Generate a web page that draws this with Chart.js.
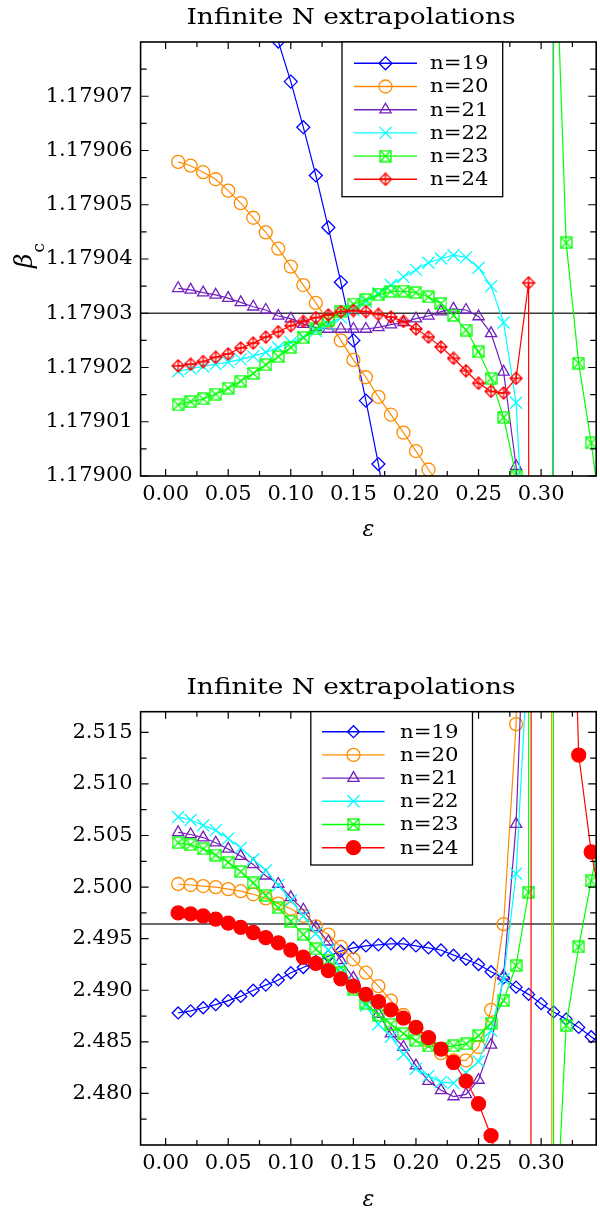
<!DOCTYPE html>
<html>
<head>
<meta charset="utf-8">
<script src="https://cdn.jsdelivr.net/npm/chart.js@4/dist/chart.umd.min.js"></script>
<style>
  html, body { margin: 0; padding: 0; background: #fff; overflow: hidden; }
  #wrap { position: relative; width: 606px; height: 1211px; }
  canvas { position: absolute; left: 0; }
</style>
</head>
<body>
<div id="wrap">
  <canvas id="topChart" width="606" height="600" style="top:0"></canvas>
  <canvas id="bottomChart" width="606" height="611" style="top:600px"></canvas>
</div>
<script>
// epsilon grid shared by every series
const eps = [0.01, 0.02, 0.03, 0.04, 0.05, 0.06, 0.07, 0.08, 0.09, 0.10,
             0.11, 0.12, 0.13, 0.14, 0.15, 0.16, 0.17, 0.18, 0.19, 0.20,
             0.21, 0.22, 0.23, 0.24, 0.25, 0.26, 0.27, 0.28, 0.29, 0.30,
             0.31, 0.32, 0.33, 0.34, 0.35];

const legendLabels = ["n=19", "n=20", "n=21", "n=22", "n=23", "n=24"];
const seriesColors = ["#0000ff", "#ff8c00", "#7221bc", "#00ffff", "#00ff00", "#ff0000"];

// beta_c extrapolations (top panel)
const betaN19 = [null, null, null, null, null, null, 1.1790935, 1.1790868, 1.1790801, 1.1790727,
                 1.1790643, 1.1790554, 1.1790458, 1.1790357, 1.1790250, 1.1790139, 1.1790022, 1.1789890,
                 null, null, null, null, null, null, null, null, null, null, null,
                 1.1745000, 1.1792000];
const betaN20 = [1.1790579, 1.1790572, 1.1790560, 1.1790547, 1.1790526, 1.1790503, 1.1790476, 1.1790449,
                 1.1790419, 1.1790386, 1.1790352, 1.1790319, 1.1790285, 1.1790250, 1.1790214, 1.1790182,
                 1.1790146, 1.1790113, 1.1790080, 1.1790046, 1.1790012, 1.1789978, 1.1789940];
const betaN21 = [1.1790346, 1.1790343, 1.1790338, 1.1790334, 1.1790328, 1.1790320, 1.1790312, 1.1790306,
                 1.1790295, 1.1790290, 1.1790280, 1.1790274, 1.1790271, 1.1790271, 1.1790271, 1.1790271,
                 1.1790274, 1.1790279, 1.1790283, 1.1790290, 1.1790295, 1.1790303, 1.1790308, 1.1790306,
                 1.1790294, 1.1790263, 1.1790192, 1.1790018, 1.1789700];
const betaN22 = [1.1790193, 1.1790198, 1.1790202, 1.1790206, 1.1790210, 1.1790215, 1.1790221, 1.1790228,
                 1.1790237, 1.1790246, 1.1790256, 1.1790267, 1.1790279, 1.1790292, 1.1790306, 1.1790321,
                 1.1790337, 1.1790352, 1.1790367, 1.1790380, 1.1790393, 1.1790401, 1.1790407, 1.1790403,
                 1.1790384, 1.1790350, 1.1790283, 1.1790135, 1.1789700];
const betaN23 = [1.1790131, 1.1790137, 1.1790142, 1.1790151, 1.1790162, 1.1790175, 1.1790189, 1.1790205,
                 1.1790220, 1.1790237, 1.1790255, 1.1790271, 1.1790287, 1.1790304, 1.1790317, 1.1790325,
                 1.1790334, 1.1790340, 1.1790341, 1.1790338, 1.1790330, 1.1790318, 1.1790296, 1.1790269,
                 1.1790229, 1.1790180, 1.1790108, 1.1790000, 1.1789600, 1.1735000, 1.1791100, 1.1790430,
                 1.1790208, 1.1790061, 1.1789890];
const betaN24 = [1.1790203, 1.1790206, 1.1790211, 1.1790219, 1.1790225, 1.1790236, 1.1790245, 1.1790256,
                 1.1790266, 1.1790277, 1.1790285, 1.1790292, 1.1790297, 1.1790303, 1.1790305, 1.1790303,
                 1.1790298, 1.1790293, 1.1790285, 1.1790271, 1.1790256, 1.1790238, 1.1790217, 1.1790194,
                 1.1790171, 1.1790156, 1.1790153, 1.1790180, 1.1790356, 1.1735000];
const betaRef = 1.17903;

// B_4 extrapolations (bottom panel)
const b4N19 = [2.4878, 2.4880, 2.4883, 2.4886, 2.4890, 2.4894, 2.4900, 2.4905, 2.4910, 2.4917,
               2.4922, 2.4928, 2.4933, 2.4938, 2.4941, 2.4943, 2.4944, 2.4945, 2.4945, 2.4943,
               2.4941, 2.4939, 2.4934, 2.4930, 2.4925, 2.4918, 2.4912, 2.4903, 2.4896, 2.4887,
               2.4879, 2.4872, 2.4864, 2.4855, 2.4846];
const b4N20 = [2.5003, 2.5002, 2.5001, 2.5000, 2.4998, 2.4996, 2.4993, 2.4989, 2.4984, 2.4979,
               2.4972, 2.4962, 2.4954, 2.4942, 2.4930, 2.4917, 2.4904, 2.4890, 2.4876, 2.4864,
               2.4851, 2.4839, 2.4832, 2.4832, 2.4845, 2.4881, 2.4964, 2.5158, 2.6000, 5.0400,
               2.0400];
const b4N21 = [2.5053, 2.5051, 2.5048, 2.5043, 2.5037, 2.5030, 2.5022, 2.5011, 2.5003, 2.4990,
               2.4978, 2.4961, 2.4947, 2.4929, 2.4912, 2.4895, 2.4877, 2.4858, 2.4845, 2.4827,
               2.4812, 2.4803, 2.4797, 2.4799, 2.4813, 2.4847, 2.4914, 2.5061, 2.5380];
const b4N22 = [2.5068, 2.5065, 2.5060, 2.5055, 2.5047, 2.5038, 2.5027, 2.5016, 2.5002, 2.4987,
               2.4972, 2.4955, 2.4939, 2.4922, 2.4906, 2.4885, 2.4867, 2.4855, 2.4838, 2.4824,
               2.4817, 2.4811, 2.4810, 2.4820, 2.4831, 2.4861, 2.4911, 2.5013, 2.5240];
const b4N23 = [2.5043, 2.5041, 2.5037, 2.5031, 2.5024, 2.5015, 2.5004, 2.4992, 2.4980, 2.4967,
               2.4954, 2.4940, 2.4929, 2.4917, 2.4901, 2.4887, 2.4876, 2.4867, 2.4858, 2.4851,
               2.4846, 2.4844, 2.4846, 2.4848, 2.4856, 2.4868, 2.4890, 2.4924, 2.4995, 5.0000,
               2.4619, 2.4866, 2.4942, 2.5006, 2.5070];
const b4N24 = [2.4975, 2.4974, 2.4972, 2.4969, 2.4965, 2.4961, 2.4956, 2.4951, 2.4946, 2.4939,
               2.4932, 2.4926, 2.4919, 2.4911, 2.4904, 2.4896, 2.4889, 2.4881, 2.4873, 2.4864,
               2.4854, 2.4843, 2.4830, 2.4812, 2.4790, 2.4759, 2.4705, 2.4600, 1.8900, 4.9900,
               2.6500, 2.5550, 2.5128, 2.5034, 2.4970];
const b4Ref = 2.49642;

// ticks
const xMajorTicks = [0, 0.05, 0.10, 0.15, 0.20, 0.25, 0.30];
const xMinorTicks = [0.025, 0.075, 0.125, 0.175, 0.225, 0.275, 0.325];
const xTickLabels = ["0.00", "0.05", "0.10", "0.15", "0.20", "0.25", "0.30"];
const betaMajorTicks = [1.17900, 1.17901, 1.17902, 1.17903, 1.17904, 1.17905, 1.17906, 1.17907];
const betaMinorTicks = [1.179005, 1.179015, 1.179025, 1.179035, 1.179045, 1.179055, 1.179065, 1.179075];
const betaTickLabels = ["1.17900", "1.17901", "1.17902", "1.17903", "1.17904", "1.17905", "1.17906", "1.17907"];
const b4MajorTicks = [2.480, 2.485, 2.490, 2.495, 2.500, 2.505, 2.510, 2.515];
const b4MinorTicks = [2.4775, 2.4825, 2.4875, 2.4925, 2.4975, 2.5025, 2.5075, 2.5125];
const b4TickLabels = ["2.480", "2.485", "2.490", "2.495", "2.500", "2.505", "2.510", "2.515"];

const xMin = -0.02, xMax = 0.344;
const FONT = "'DejaVu Serif', serif";

function boxCross(color, s) {
  const c = document.createElement("canvas");
  c.width = c.height = s + 2;
  const g = c.getContext("2d");
  g.strokeStyle = color;
  g.lineWidth = 1.3;
  g.strokeRect(1, 1, s, s);
  g.beginPath();
  g.moveTo(1, 1); g.lineTo(s + 1, s + 1);
  g.moveTo(s + 1, 1); g.lineTo(1, s + 1);
  g.stroke();
  return c;
}

function diamondPlus(color, s) {
  const c = document.createElement("canvas");
  c.width = c.height = s + 2;
  const g = c.getContext("2d");
  const m = (s + 2) / 2, h = s / 2;
  g.strokeStyle = color;
  g.lineWidth = 1.3;
  g.beginPath();
  g.moveTo(m, m - h); g.lineTo(m + h, m); g.lineTo(m, m + h); g.lineTo(m - h, m); g.closePath();
  g.moveTo(m, m - h); g.lineTo(m, m + h);
  g.moveTo(m - h, m); g.lineTo(m + h, m);
  g.stroke();
  return c;
}

function tickList(major, minor, labels) {
  return major.map((v, i) => ({ value: v, lbl: labels[i] }))
    .concat(minor.map(v => ({ value: v, lbl: "" })));
}

// frame, inward ticks, legend box and texts
const decor = {
  id: "decor",
  afterDatasetsDraw(chart, args, o) {
    const { ctx, chartArea: a } = chart;
    const xs = chart.scales.x, ys = chart.scales.y;
    ctx.save();
    ctx.strokeStyle = "#000";
    ctx.lineWidth = 1.2;
    ctx.beginPath();
    xs.ticks.forEach(t => {
      const p = xs.getPixelForValue(t.value), len = t.lbl ? 7 : 5;
      ctx.moveTo(p, a.bottom); ctx.lineTo(p, a.bottom - len);
      ctx.moveTo(p, a.top); ctx.lineTo(p, a.top + len);
    });
    ys.ticks.forEach(t => {
      const p = ys.getPixelForValue(t.value), len = t.lbl ? 8 : 6;
      ctx.moveTo(a.left, p); ctx.lineTo(a.left + len, p);
      ctx.moveTo(a.right, p); ctx.lineTo(a.right - len, p);
    });
    ctx.stroke();
    ctx.lineWidth = 1.6;
    ctx.strokeRect(a.left, a.top, a.right - a.left, a.bottom - a.top);

    // legend
    const L = o.legend;
    ctx.fillStyle = "#fff";
    ctx.fillRect(L.left, a.top, L.right - L.left, L.bottom - a.top);
    ctx.lineWidth = 1.3;
    ctx.strokeRect(L.left, a.top, L.right - L.left, L.bottom - a.top);
    chart.data.datasets.slice(0, legendLabels.length).forEach((ds, i) => {
      const y = L.rowTop + i * L.rowGap;
      ctx.strokeStyle = ds.borderColor;
      ctx.lineWidth = 1.4;
      ctx.beginPath();
      ctx.moveTo(L.lineFrom, y); ctx.lineTo(L.lineTo, y);
      ctx.stroke();
      ctx.fillStyle = ds.pointBackgroundColor;
      ctx.lineWidth = ds.pointBorderWidth;
      Chart.helpers.drawPoint(ctx, { pointStyle: ds.pointStyle, radius: ds.pointRadius,
        rotation: 0, borderWidth: ds.pointBorderWidth }, L.markAt, y);
      ctx.save();
      ctx.translate(L.textAt, y);
      ctx.scale(L.stretch, 1);
      ctx.fillStyle = "#000";
      ctx.font = L.size + "px " + FONT;
      ctx.textAlign = "left";
      ctx.textBaseline = "middle";
      ctx.fillText(ds.label, 0, 1);
      ctx.restore();
    });

    // title
    const T = o.title;
    ctx.save();
    ctx.translate(T.x, T.y);
    ctx.scale(T.stretch, 1);
    ctx.fillStyle = "#000";
    ctx.font = T.size + "px " + FONT;
    ctx.textAlign = "center";
    ctx.textBaseline = "middle";
    ctx.fillText(T.text, 0, 0);
    ctx.restore();

    // y axis title with subscript
    const Y = o.yTitle;
    ctx.save();
    ctx.translate(Y.x, Y.y);
    ctx.rotate(-Math.PI / 2);
    ctx.fillStyle = "#000";
    ctx.textAlign = "left";
    ctx.textBaseline = "alphabetic";
    ctx.font = (Y.italic ? "italic " : "") + Y.size + "px " + FONT;
    ctx.fillText(Y.main, 0, 0);
    const w = ctx.measureText(Y.main).width;
    ctx.font = Y.subSize + "px " + FONT;
    ctx.fillText(Y.sub, w + 1, Y.subShift);
    ctx.restore();
    ctx.restore();
  }
};

function buildChart(id, c) {
  const datasets = c.series.map((vals, i) => ({
    label: legendLabels[i],
    data: vals.map((v, j) => ({ x: eps[j], y: v })),
    borderColor: seriesColors[i],
    borderWidth: 1.2,
    pointStyle: c.markers[i].style,
    pointRadius: c.markers[i].r,
    pointBorderWidth: 1.3,
    pointBorderColor: seriesColors[i],
    pointBackgroundColor: c.markers[i].fill ? seriesColors[i] : "rgba(0,0,0,0)",
    order: 6 - i
  }));
  datasets.push({
    label: "ref",
    data: [{ x: xMin, y: c.ref }, { x: xMax, y: c.ref }],
    borderColor: "#3a3a3a",
    borderWidth: 1.7,
    pointRadius: 0,
    order: 7
  });

  return new Chart(document.getElementById(id), {
    type: "line",
    data: { datasets },
    options: {
      responsive: false,
      animation: false,
      devicePixelRatio: 1,
      events: [],
      layout: { padding: c.padding },
      scales: {
        x: {
          type: "linear", min: xMin, max: xMax,
          grid: { display: false, drawTicks: false },
          border: { display: false },
          afterBuildTicks: s => { s.ticks = tickList(xMajorTicks, xMinorTicks, xTickLabels); },
          afterFit: s => { s.height = 66; },
          ticks: {
            autoSkip: false, maxRotation: 0, padding: 6, color: "#000",
            font: { family: FONT, size: 21 },
            callback: (v, i, t) => t[i].lbl
          },
          title: {
            display: true, text: "ε", color: "#000",
            font: { family: FONT, size: 22, style: "italic", lineHeight: 1 },
            padding: { top: 0, bottom: c.xTitlePad }
          }
        },
        y: {
          type: "linear", min: c.yMin, max: c.yMax,
          grid: { display: false, drawTicks: false },
          border: { display: false },
          afterBuildTicks: s => { s.ticks = tickList(c.yMajor, c.yMinor, c.yLabels); },
          afterFit: s => { s.width = 140.6; },
          ticks: {
            autoSkip: false, padding: 8, color: "#000",
            font: { family: FONT, size: 21 },
            callback: (v, i, t) => t[i].lbl
          }
        }
      },
      plugins: {
        legend: { display: false },
        tooltip: { enabled: false },
        decor: c.decor
      }
    },
    plugins: [decor]
  });
}

buildChart("topChart", {
  series: [betaN19, betaN20, betaN21, betaN22, betaN23, betaN24],
  markers: [
    { style: "rectRot", r: 6.5 },
    { style: "circle", r: 6.5 },
    { style: "triangle", r: 6.5 },
    { style: "crossRot", r: 8.5 },
    { style: boxCross(seriesColors[4], 11), r: 6 },
    { style: diamondPlus(seriesColors[5], 12), r: 6 }
  ],
  ref: betaRef,
  yMin: 1.17900, yMax: 1.17908,
  yMajor: betaMajorTicks, yMinor: betaMinorTicks, yLabels: betaTickLabels,
  padding: { top: 42, right: 4, bottom: 58, left: 0 },
  xTitlePad: 1,
  decor: {
    legend: { left: 342, right: 502.7, bottom: 196.7, rowTop: 63.3, rowGap: 23.2,
              lineFrom: 354, lineTo: 417, markAt: 385.5, textAt: 430, size: 19, stretch: 1.12 },
    title: { text: "Infinite N extrapolations", x: 351, y: 18.5, size: 23, stretch: 1.15 },
    yTitle: { main: "β", sub: "c", italic: true, x: 32, y: 268, size: 25, subSize: 17, subShift: 12 }
  }
});

buildChart("bottomChart", {
  series: [b4N19, b4N20, b4N21, b4N22, b4N23, b4N24],
  markers: [
    { style: "rectRot", r: 6 },
    { style: "circle", r: 6.5 },
    { style: "triangle", r: 6.5 },
    { style: "crossRot", r: 8.5 },
    { style: boxCross(seriesColors[4], 11), r: 6 },
    { style: "circle", r: 7, fill: true }
  ],
  ref: b4Ref,
  yMin: 2.475, yMax: 2.517,
  yMajor: b4MajorTicks, yMinor: b4MinorTicks, yLabels: b4TickLabels,
  padding: { top: 111.7, right: 4, bottom: 0, left: 0 },
  xTitlePad: 0,
  decor: {
    legend: { left: 310.8, right: 472.5, bottom: 265, rowTop: 131.7, rowGap: 23.2,
              lineFrom: 322, lineTo: 384.6, markAt: 353.5, textAt: 400, size: 19, stretch: 1.12 },
    title: { text: "Infinite N extrapolations", x: 351, y: 88, size: 23, stretch: 1.15 },
    yTitle: { main: "B", sub: "4", italic: false, x: 50, y: 943, size: 24, subSize: 14, subShift: 13 }
  }
});
</script>
</body>
</html>
